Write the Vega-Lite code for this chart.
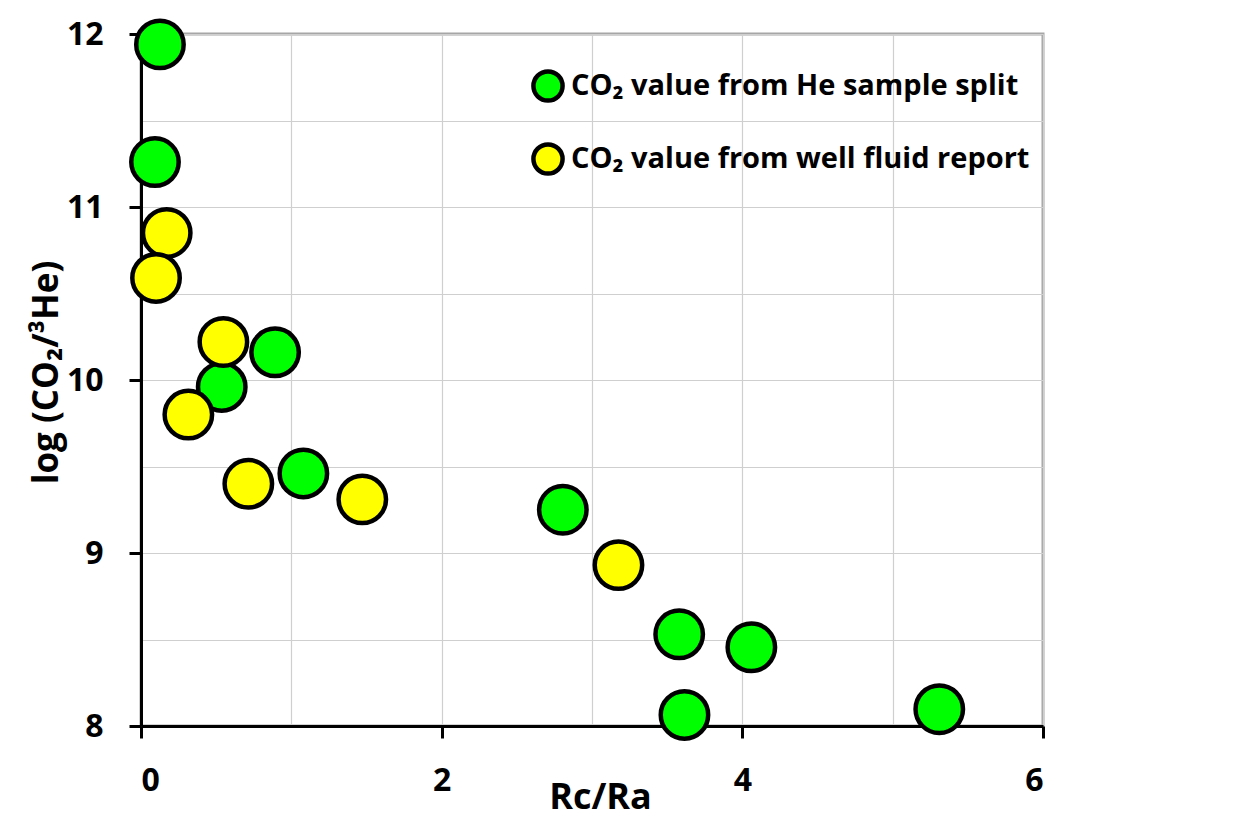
{
  "$schema": "https://vega.github.io/schema/vega-lite/v6.json",
  "autosize": "none",
  "width": 902,
  "height": 692,
  "padding": {"left": 141, "top": 34, "right": 207, "bottom": 107},
  "background": "white",
  "config": {
    "view": {"stroke": "#a6a6a6", "strokeWidth": 3},
    "font": "Open Sans"
  },
  "data": {
    "values": [
      {"rcra": 0.126, "logratio": 11.94, "source": "CO₂ value from He sample split"},
      {"rcra": 0.093, "logratio": 11.26, "source": "CO₂ value from He sample split"},
      {"rcra": 0.171, "logratio": 10.85, "source": "CO₂ value from well fluid report"},
      {"rcra": 0.10, "logratio": 10.59, "source": "CO₂ value from well fluid report"},
      {"rcra": 0.537, "logratio": 9.96, "source": "CO₂ value from He sample split"},
      {"rcra": 0.892, "logratio": 10.16, "source": "CO₂ value from He sample split"},
      {"rcra": 0.548, "logratio": 10.22, "source": "CO₂ value from well fluid report"},
      {"rcra": 0.315, "logratio": 9.80, "source": "CO₂ value from well fluid report"},
      {"rcra": 0.714, "logratio": 9.40, "source": "CO₂ value from well fluid report"},
      {"rcra": 1.08, "logratio": 9.46, "source": "CO₂ value from He sample split"},
      {"rcra": 1.472, "logratio": 9.31, "source": "CO₂ value from well fluid report"},
      {"rcra": 2.806, "logratio": 9.25, "source": "CO₂ value from He sample split"},
      {"rcra": 3.176, "logratio": 8.93, "source": "CO₂ value from well fluid report"},
      {"rcra": 3.58, "logratio": 8.53, "source": "CO₂ value from He sample split"},
      {"rcra": 4.06, "logratio": 8.455, "source": "CO₂ value from He sample split"},
      {"rcra": 3.615, "logratio": 8.064, "source": "CO₂ value from He sample split"},
      {"rcra": 5.31, "logratio": 8.097, "source": "CO₂ value from He sample split"}
    ]
  },
  "mark": {"type": "point", "shape": "circle", "filled": true, "opacity": 1, "size": 2250, "stroke": "black", "strokeWidth": 4.5},
  "encoding": {
    "x": {
      "field": "rcra", "type": "quantitative",
      "scale": {"domain": [0, 6], "nice": false, "zero": false},
      "axis": {
        "title": "Rc/Ra",
        "values": [0, 1, 2, 3, 4, 5, 6],
        "labelExpr": "datum.value % 2 === 0 ? format(datum.value, 'd') : ''",
        "tickOpacity": {"condition": {"test": "datum.value % 2 !== 0", "value": 0}, "value": 1},
        "grid": true, "gridColor": "#cfcfcf", "gridWidth": 1.2,
        "domainColor": "black", "domainWidth": 3,
        "tickColor": "black", "tickWidth": 3, "tickSize": 12,
        "labelFont": "Open Sans", "labelFontWeight": "bold", "labelFontSize": 32, "labelColor": "black",
        "labelBaseline": "alphabetic", "labelPadding": 52,
        "titleFont": "Open Sans", "titleFontWeight": "bold", "titleFontSize": 36, "titleColor": "black",
        "titleBaseline": "alphabetic", "titleY": 82, "titleX": 459
      }
    },
    "y": {
      "field": "logratio", "type": "quantitative",
      "scale": {"domain": [8, 12], "nice": false, "zero": false},
      "axis": {
        "title": "log (CO₂/³He)",
        "values": [8, 8.5, 9, 9.5, 10, 10.5, 11, 11.5, 12],
        "labelExpr": "datum.value % 1 === 0 ? format(datum.value, 'd') : ''",
        "tickOpacity": {"condition": {"test": "datum.value % 1 !== 0", "value": 0}, "value": 1},
        "grid": true, "gridColor": "#cfcfcf", "gridWidth": 1.2,
        "domainColor": "black", "domainWidth": 3,
        "tickColor": "black", "tickWidth": 3, "tickSize": 12,
        "labelFont": "Open Sans", "labelFontWeight": "bold", "labelFontSize": 32, "labelColor": "black",
        "labelPadding": 26, "labelBaseline": "middle",
        "titleFont": "Open Sans", "titleFontWeight": "bold", "titleFontSize": 35, "titleColor": "black",
        "titleAngle": 270, "titleBaseline": "alphabetic", "titleAlign": "center",
        "titleX": -84, "titleY": 338
      }
    },
    "color": {
      "field": "source", "type": "nominal",
      "scale": {"domain": ["CO₂ value from He sample split", "CO₂ value from well fluid report"], "range": ["#00ff00", "#ffff00"]},
      "legend": {
        "title": null,
        "orient": "none", "legendX": 390, "legendY": 35,
        "padding": 0,
        "symbolType": "circle", "symbolSize": 850, "symbolStrokeColor": "black", "symbolStrokeWidth": 4.5, "symbolOpacity": 1,
        "labelFont": "Open Sans", "labelFontWeight": "bold", "labelFontSize": 29, "labelColor": "black",
        "labelOffset": 6, "rowPadding": 25, "labelLimit": 600
      }
    }
  }
}
